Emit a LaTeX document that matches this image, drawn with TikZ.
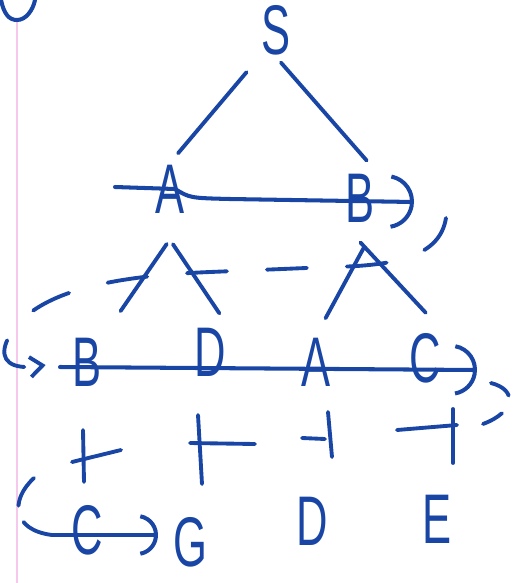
\documentclass[tikz,border=0pt]{standalone}
\usepackage{fontspec}
\newfontfamily\inkfont[FakeStretch=0.62]{Liberation Sans}
\usetikzlibrary{arrows.meta}

\definecolor{ink}{RGB}{25,70,165}
\definecolor{margin}{RGB}{246,200,236}

\begin{document}
\begin{tikzpicture}[
  x=0.02cm, y=-0.02cm,
  color=ink, line width=2.3pt, line cap=round,
  letter/.style={font=\inkfont\fontsize{40}{40}\selectfont, inner sep=0pt},
  branch/.style={line width=2.2pt},
  queue/.style={-{Arc Barb[arc=160, length=#1]}},
  wrap/.style={line width=2.2pt, dash pattern=on 0.8cm off 0.8cm},
  tick/.style={line width=2.2pt}
]
\useasboundingbox (0,0) rectangle (520,583);

% notebook margin and the stray stroke at the corner
\draw[margin, line width=0.8pt, line cap=butt] (17,20) -- (17,583);
\draw (1,0) .. controls (4,14) and (9,20) .. (17,20) .. controls (26,20) and (33,10) .. (35,0);

% tree
\node[letter] (S) at (276,30) {S};
\node[letter] (A) at (170,189) {A};
\node[letter] (B) at (360,198) {B};

\node[letter] (b2) at (87,362) {B};
\node[letter] (d2) at (210,352) {D};
\node[letter] (a2) at (316,362) {A};
\node[letter] (c2) at (425,358) {C};

\node[letter] (c3) at (87,530) {C};
\node[letter] (g3) at (190,542) {G};
\node[letter] (d3) at (312,521) {D};
\node[letter] (e3) at (437,519) {E};

\draw[branch, shorten <=0.4cm, shorten >=0.25cm] (S.south west) -- (A.north);
\draw[branch, shorten <=0.15cm, shorten >=0.3cm] (S.south) -- (B.north east);
\draw[branch, shorten <=0.7cm, shorten >=0.6cm] (A.south east) -- (b2.north east);
\draw[branch, shorten <=0.7cm, shorten >=0.3cm] (A.south west) -- (d2.north east);
\draw[branch, shorten <=0.55cm, shorten >=0.4cm] (B.south east) -- (a2.north);
\draw[branch, shorten <=0.5cm, shorten >=0.5cm] (B.south west) -- (c2.north east);

% level sweeps
\coordinate (q1in) at (115,187);
\coordinate (q1out) at (414,202);
\draw[queue=0.55cm] (q1in) -- (175,189) .. controls (190,198) .. (230,199) -- (q1out);

\coordinate (q2in) at (60,367);
\coordinate (q2out) at (477,370);
\draw[queue=0.52cm] (q2in) -- (q2out);

\coordinate (q3in) at (52,535);
\coordinate (q3out) at (158,535);
\draw[queue=0.42cm] (q3in) -- (q3out);

% wrap to the next level
\coordinate (w1) at (446,218);
\draw[wrap, -{Straight Barb[length=0.25cm, width=0.4cm]}, shorten >=0.5cm]
  (w1) .. controls (440,255) and (400,266) .. (330,267) -- (210,272)
  .. controls (110,276) and (35,292) .. (10,335)
  .. controls (-2,355) and (5,368) .. (30,367) -- (b2.west);

\coordinate (w2) at (491,383);
\draw[wrap, dash pattern=on 0.45cm off 0.4cm]
  (w2) .. controls (518,390) and (515,412) .. (483,424);
\coordinate (w3) at (34,478);
\draw[wrap, dash pattern=on 0.65cm off 0.35cm]
  (w3) .. controls (10,500) and (12,530) .. (q3in);

% marks under the second level
\draw[tick] (83,430) -- (84,482);
\draw[tick] (72,462) -- (121,450);
\draw[tick] (198,415) -- (202,484);
\draw[tick] (190,443) -- (255,444);
\draw[tick] (328,412) -- (332,457);
\draw[tick] (302,438) -- (325,439);
\draw[tick] (453,409) -- (453,463);
\draw[tick] (397,430) -- (457,425);

\end{tikzpicture}
\end{document}
